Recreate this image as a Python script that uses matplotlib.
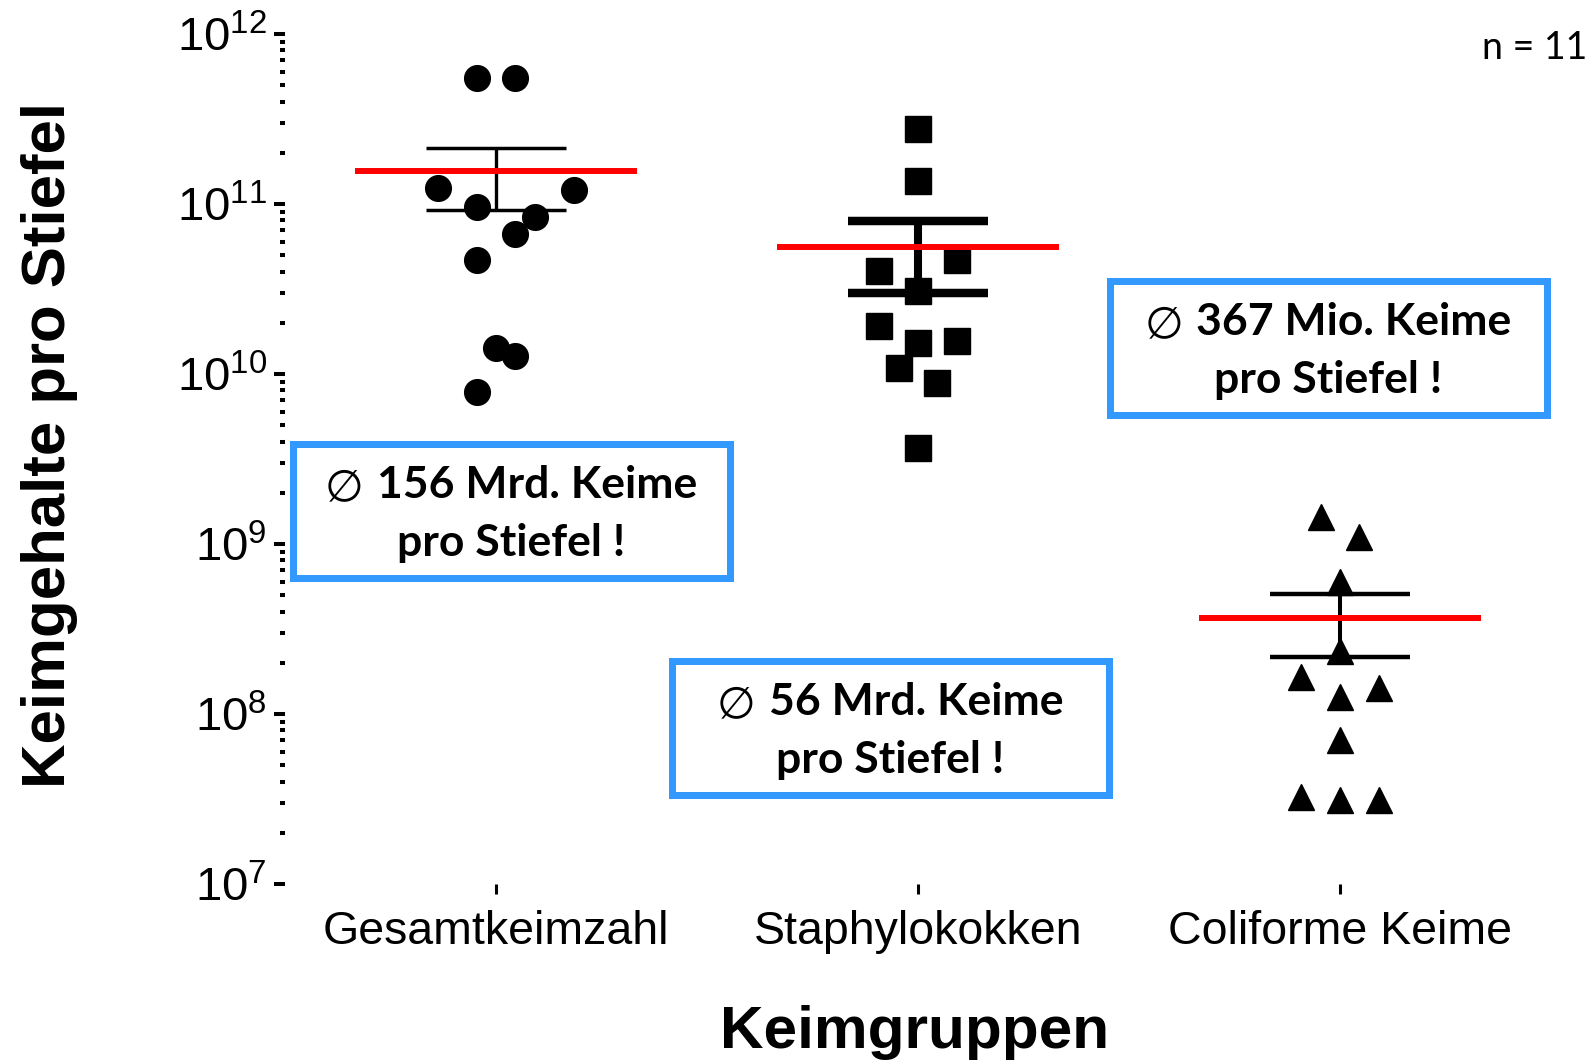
import numpy as np
import matplotlib
matplotlib.use("Agg")
import matplotlib.pyplot as plt
from matplotlib.ticker import LogLocator, NullFormatter, FuncFormatter
from matplotlib.patches import Rectangle

# ---- data -------------------------------------------------------------
categories = ["Gesamtkeimzahl", "Staphylokokken", "Coliforme Keime"]

gesamtkeimzahl = [5.5e11, 5.5e11, 1.24e11, 1.21e11, 9.6e10, 8.4e10,
                  6.7e10, 4.7e10, 1.42e10, 1.28e10, 7.8e9]
staphylokokken = [2.76e11, 1.36e11, 4.69e10, 4.04e10, 3.08e10, 1.92e10,
                  1.56e10, 1.52e10, 1.08e10, 8.85e9, 3.67e9]
coliforme = [1.44e9, 1.10e9, 5.98e8, 2.35e8, 1.65e8, 1.42e8,
             1.26e8, 7.0e7, 3.25e7, 3.12e7, 3.12e7]

# stated averages per group (red lines and annotation boxes)
stated_means = [156e9, 56e9, 367e6]
stated_text = ["156 Mrd. Keime", "56 Mrd. Keime", "367 Mio. Keime"]
n_label = "n = 11"

# horizontal scatter slots of the points (scatter-plot spreading)
slots = [
    [-1, 1, -3, 4, -1, 2, 1, -1, 0, 1, -1],
    [0, 0, 2, -2, 0, -2, 2, 0, -1, 1, 0],
    [-1, 1, 0, 0, -2, 2, 0, 0, -2, 0, 2],
]

groups = [gesamtkeimzahl, staphylokokken, coliforme]

# ---- figure -----------------------------------------------------------
W, H = 1594, 1060
fig = plt.figure(figsize=(W / 100, H / 100), dpi=100)
fig.patch.set_facecolor("white")


def fx(px):
    return px / W


def fy(py):
    return 1 - py / H


ax = fig.add_axes([fx(285), fy(884), (1551 - 285) / W, (884 - 34) / H])
ax.set_yscale("log")
ax.set_xlim(-0.5, 2.5)
ax.set_ylim(1e7, 1e12)
for s in ax.spines.values():
    s.set_visible(False)

SLOT = 0.0462
marker_shapes = ["o", "s", "^"]
cap_lw = [2.5, 6.1, 3.2]
stem_lw = [2.4, 5.8, 2.9]
cap_half = 0.166
red_half = 0.334

for i, (vals, sl, m) in enumerate(zip(groups, slots, marker_shapes)):
    v = np.asarray(vals)
    mean = v.mean()
    sem = v.std(ddof=1) / np.sqrt(len(v))
    xs = i + np.asarray(sl) * SLOT
    ax.plot(xs, v, ls="none", marker=m, ms=18.5, color="black",
            zorder=3, clip_on=False)
    ax.hlines([mean + sem, mean - sem], i - cap_half, i + cap_half,
              colors="black", lw=cap_lw[i], zorder=2)
    ax.vlines(i, mean - sem, mean + sem, colors="black", lw=stem_lw[i], zorder=2)
    ax.hlines(stated_means[i], i - red_half, i + red_half,
              colors="red", lw=4.3, zorder=4)

# ---- axes ticks -------------------------------------------------------
sans = ["Liberation Sans", "DejaVu Sans"]
ax.yaxis.set_major_locator(LogLocator(base=10, numticks=10))
ax.yaxis.set_minor_locator(LogLocator(base=10, subs=np.arange(2, 10), numticks=100))
ax.yaxis.set_minor_formatter(NullFormatter())
ax.yaxis.set_major_formatter(
    FuncFormatter(lambda v, p: r"$\mathregular{10^{%d}}$" % round(np.log10(v))))
ax.tick_params(axis="y", which="major", length=8, width=2.9, pad=5,
               labelsize=34, labelfontfamily=sans)
ax.tick_params(axis="y", which="minor", length=3.6, width=2.9)

ax.set_xticks(range(len(categories)))
ax.set_xticklabels(categories)
ax.tick_params(axis="x", length=7.5, width=2.2, pad=11, labelsize=33.5,
               labelfontfamily=sans)

# ---- axis titles ------------------------------------------------------
fig.text(fx(49.5), fy(445), "Keimgehalte pro Stiefel", rotation=90,
         ha="center", va="center", fontsize=44.5, fontweight="bold", family=sans)
fig.text(fx(915), fy(1048), "Keimgruppen", ha="center", va="baseline",
         fontsize=43.5, fontweight="bold", family=sans)

fig.text(fx(1587), fy(59), n_label, ha="right", va="baseline", fontsize=27,
         family=["Lato", "DejaVu Sans"])

# ---- annotation boxes -------------------------------------------------
box_w, box_h, border = 444, 141, 7
box_origins = [(289, 440), (668, 657), (1106, 277)]
box_color = "#3399FF"

renderer = fig.canvas.get_renderer()
for (x0, y0), txt in zip(box_origins, stated_text):
    fig.patches.append(Rectangle(
        (fx(x0 + border / 2), fy(y0 + box_h - border / 2)),
        (box_w - border) / W, (box_h - border) / H,
        transform=fig.transFigure, facecolor="white", edgecolor=box_color,
        lw=border * 0.72, zorder=2))
    cx = x0 + box_w / 2
    base1 = y0 + 58
    base2 = y0 + 116
    t_main = fig.text(0, fy(base1), txt, ha="left", va="baseline",
                      fontsize=32, fontweight="bold", family=["Lato", "DejaVu Sans"],
                      zorder=3)
    t_sym = fig.text(0, fy(base1 + 2), "\u2205", ha="left", va="baseline",
                     fontsize=32, family=["DejaVu Sans"], zorder=3)
    w_main = t_main.get_window_extent(renderer).width
    w_sym = t_sym.get_window_extent(renderer).width
    gap = 13
    left = cx - (w_sym + gap + w_main) / 2
    t_sym.set_x(fx(left))
    t_main.set_x(fx(left + w_sym + gap))
    fig.text(fx(cx), fy(base2), "pro Stiefel !", ha="center", va="baseline",
             fontsize=32, fontweight="bold", family=["Lato", "DejaVu Sans"],
             zorder=3)

fig.savefig("out.png", dpi=100, facecolor="white")
